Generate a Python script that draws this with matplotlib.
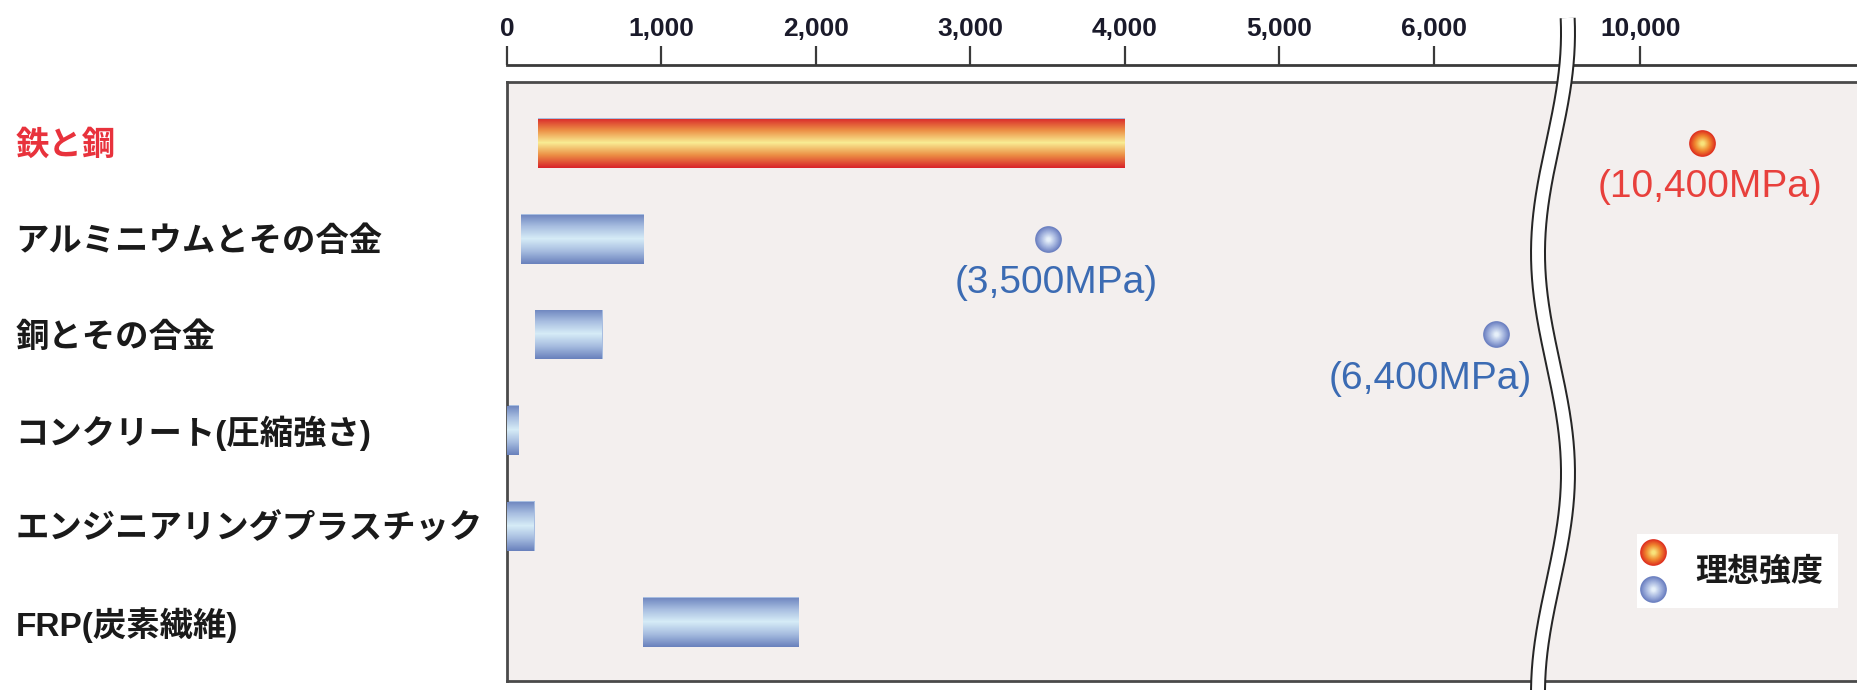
import numpy as np
import matplotlib.pyplot as plt
from matplotlib.colors import LinearSegmentedColormap
from matplotlib.lines import Line2D
from matplotlib.patches import Rectangle

plt.rcParams['font.family'] = ['Noto Sans CJK JP', 'DejaVu Sans']

# strength ranges (MPa)
materials = ['鉄と鋼', 'アルミニウムとその合金', '銅とその合金',
             'コンクリート(圧縮強さ)', 'エンジニアリングプラスチック', 'FRP(炭素繊維)']
strength_low = [200, 90, 180, 0, 0, 880]
strength_high = [4000, 890, 620, 80, 180, 1890]

# ideal strength points
ideal_rows = [0, 1, 2]
ideal_values = [10400, 3500, 6400]
ideal_labels = ['(10,400MPa)', '(3,500MPa)', '(6,400MPa)']

tick_values = [0, 1000, 2000, 3000, 4000, 5000, 6000, 10000]
tick_labels = ['0', '1,000', '2,000', '3,000', '4,000', '5,000', '6,000', '10,000']

# broken axis: squeeze 6800..9500 into a tiny gap
BRK_LO, BRK_HI, GAP = 6800, 9500, 2665


def fwd(v):
    v = np.asarray(v, float)
    hi = BRK_HI - GAP
    mid = BRK_LO + (v - BRK_LO) * (hi - BRK_LO) / (BRK_HI - BRK_LO)
    return np.where(v <= BRK_LO, v, np.where(v >= BRK_HI, v - GAP, mid))


def inv(u):
    u = np.asarray(u, float)
    hi = BRK_HI - GAP
    mid = BRK_LO + (u - BRK_LO) * (BRK_HI - BRK_LO) / (hi - BRK_LO)
    return np.where(u <= BRK_LO, u, np.where(u >= hi, u + GAP, mid))


red_bar = LinearSegmentedColormap.from_list(
    'redbar', ['#d9252a', '#ec8f45', '#f9ec93', '#ec8f45', '#d9252a'])
blue_bar = LinearSegmentedColormap.from_list(
    'bluebar', ['#6a82bd', '#a7bde0', '#d6ecf7', '#a7bde0', '#6a82bd'])
red_dot = LinearSegmentedColormap.from_list('reddot', ['#de2f1f', '#f08a30', '#f8e27a'])
blue_dot = LinearSegmentedColormap.from_list('bluedot', ['#6a7fc0', '#a8b8e0', '#e6f0fa'])


def shaded_dot(ax, x, y, cmap, size=370, n=14, **kw):
    for k in range(n):
        f = k / (n - 1)
        ax.scatter([x], [y], s=size * (1 - 0.85 * f) ** 2, color=cmap(f),
                   linewidths=0, zorder=6 + f, **kw)


W, H = 1858, 690
fig = plt.figure(figsize=(W / 100, H / 100), dpi=100)
ax = fig.add_axes([507 / W, 9 / H, 1 - 507 / W, (681 - 81.7) / H])
ax.set_facecolor('#f3efee')
ax.set_xscale('function', functions=(fwd, inv))

y = np.arange(len(materials))
widths = np.subtract(strength_high, strength_low)
bars = ax.barh(y, widths, left=strength_low, height=0.52, color='#a7bde0', zorder=2)

grad = np.linspace(0, 1, 256).reshape(-1, 1)
for i, bar in enumerate(bars):
    x0, y0, w, h = bar.get_x(), bar.get_y(), bar.get_width(), bar.get_height()
    im = ax.imshow(grad, extent=[x0, x0 + w, y0 + h, y0], aspect='auto',
                   cmap=red_bar if i == 0 else blue_bar, zorder=3,
                   interpolation='bilinear')
    im.set_clip_path(bar)

# ideal strength dots + labels
for row, val, lab in zip(ideal_rows, ideal_values, ideal_labels):
    is_steel = row == 0
    shaded_dot(ax, val, row, red_dot if is_steel else blue_dot)
    if val > 6000 and not is_steel:
        dx, ha = 26, 'right'
    else:
        dx, ha = 6, 'center'
    ax.annotate(lab, (val, row), xytext=(dx, -32), textcoords='offset points',
                ha=ha, va='center', fontsize=28, family='Liberation Sans',
                color='#e8403c' if is_steel else '#3b6bb3', zorder=7)

ax.set_xlim(0, 11410)
ax.set_ylim(5.62, -0.64)
ax.set_yticks(y, materials)
ax.tick_params(axis='y', length=0, pad=354, labelsize=24)
ax.tick_params(axis='x', bottom=False, labelbottom=False)
for k, lbl in enumerate(ax.get_yticklabels()):
    lbl.set_ha('left')
    lbl.set_family(['Liberation Sans', 'Noto Sans CJK JP'])
    lbl.set_fontweight('bold')
    lbl.set_color('#e8323c' if k == 0 else '#1a1a1a')
for side in ['left', 'top', 'bottom']:
    ax.spines[side].set_color('#4a4a4a')
    ax.spines[side].set_linewidth(2)
ax.spines['right'].set_visible(False)

# top scale line sitting above the frame
ax2 = fig.add_axes(ax.get_position(), sharex=ax)
ax2.patch.set_visible(False)
for side in ['left', 'right', 'bottom']:
    ax2.spines[side].set_visible(False)
ax2.spines['top'].set_position(('outward', 12))
ax2.spines['top'].set_color('#3a3a3a')
ax2.spines['top'].set_linewidth(2)
ax2.set_yticks([])
ax2.xaxis.tick_top()
ax2.set_xticks(tick_values, tick_labels)
ax2.tick_params(axis='x', direction='out', length=14, width=1.6, color='#3a3a3a',
                pad=3, labelsize=19, labelcolor='#1a1a2a')
for lbl in ax2.get_xticklabels():
    lbl.set_family('Liberation Sans')
    lbl.set_fontweight('bold')
ax2.set_xlim(0, 11410)

# legend box
ax.add_patch(Rectangle((0.8364, 0.1218), 0.1488, 0.1235, transform=ax.transAxes,
                       facecolor='white', edgecolor='none', zorder=5))
shaded_dot(ax, 0.8483, 0.2153, red_dot, transform=ax.transAxes)
shaded_dot(ax, 0.8483, 0.1535, blue_dot, transform=ax.transAxes)
ax.text(0.8794, 0.1830, '理想強度', transform=ax.transAxes, ha='left', va='center',
        fontsize=23, fontweight='bold', color='#1a1a1a', zorder=8)

# wavy break mark
yy = np.linspace(18, 700, 300)
xx = 1553 + 15 * np.cos(2 * np.pi * (yy - 33) / 440)
fig.add_artist(Line2D(xx / W, 1 - yy / H, color='#262626', lw=11.5,
                      solid_capstyle='butt', zorder=20))
fig.add_artist(Line2D(xx / W, 1 - yy / H, color='white', lw=8.6,
                      solid_capstyle='butt', zorder=21))

fig.savefig('out.png', dpi=100)
